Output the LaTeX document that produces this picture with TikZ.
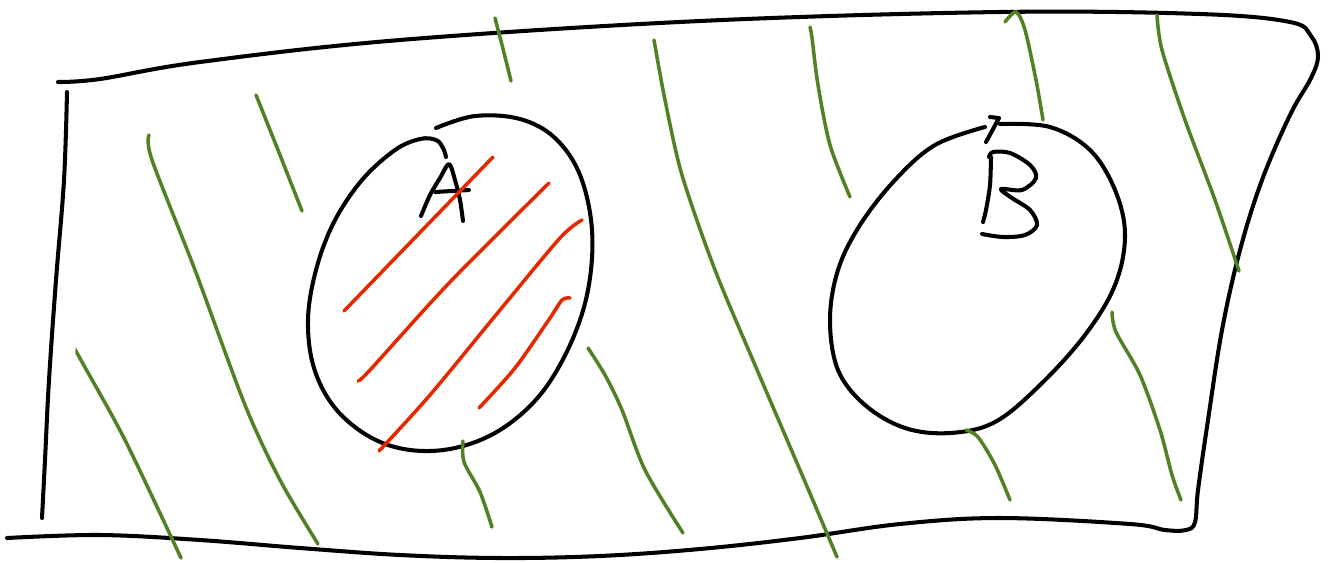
\documentclass[tikz,border=0pt]{standalone}
\definecolor{hatchgreen}{RGB}{82,128,36}
\definecolor{hatchred}{RGB}{228,40,0}
\tikzset{
  ink/.style={line width=2.3pt, line cap=round, line join=round, black},
  ghatch/.style={line width=2.0pt, line cap=round, hatchgreen},
  rhatch/.style={line width=2.0pt, line cap=round, hatchred},
}
\begin{document}
\begin{tikzpicture}[x=0.02cm,y=-0.02cm]
\useasboundingbox (0,0) rectangle (1328,562);
% outer sheet
\draw[ink] plot[smooth,tension=0.6] coordinates {(58,82) (100,79) (200,62) (400,40) (700,21) (1000,12) (1200,14) (1290,22) (1311,36) (1318,56) (1311,78) (1290,115) (1262,180) (1240,250) (1222,330) (1208,420) (1198,490) (1195,522) (1186,530) (1165,530) (1130,524) (1000,518) (900,524) (800,538) (700,549) (600,556) (500,558) (400,555) (300,548) (200,540) (100,535) (7,538)};
\draw[ink] plot[smooth,tension=0.6] coordinates {(67,92) (64,180) (56,280) (49,380) (45,460) (42,518)};
% blob A
\draw[ink] plot[smooth,tension=0.6] coordinates {(436,128) (475,116) (520,119) (555,138) (580,175) (592,230) (588,290) (570,345) (540,395) (500,430) (455,448) (410,450) (370,437) (335,408) (314,368) (308,320) (316,270) (334,222) (362,180) (395,150) (420,139) (436,140) (443,148) (446,157)};
% letter A
\draw[ink] plot[smooth,tension=0.5] coordinates {(421,216) (430,195) (440,178) (449,164) (455,180) (460,200) (463,221)};
\draw[ink] (435,192) -- (469,190);
% blob B
\draw[ink] plot[smooth,tension=0.6] coordinates {(1000,124) (1050,127) (1090,150) (1115,190) (1125,235) (1115,285) (1085,335) (1040,385) (995,422) (950,433) (905,428) (865,405) (838,370) (830,320) (838,270) (860,225) (895,180) (935,145) (985,127)};
\draw[ink] (986,142) -- (999,118) -- (990,117);
% letter B
\draw[ink] plot[smooth,tension=0.55] coordinates {(989,157) (993,152) (1010,153) (1030,165) (1036,178) (1022,190) (1001,189) (1012,198) (1030,210) (1037,225) (1025,235) (1003,237) (982,234)};
\draw[ink] plot[smooth,tension=0.5] coordinates {(991,157) (990,185) (986,210) (983,222)};
% green hatching outside
\draw[ghatch] plot[smooth] coordinates {(495,18) (502,45) (511,81)};
\draw[ghatch] plot[smooth] coordinates {(256,95) (278,150) (302,211)};
\draw[ghatch] plot[smooth] coordinates {(149,135) (152,160) (195,270) (245,405) (280,480) (318,544)};
\draw[ghatch] plot[smooth] coordinates {(77,353) (82,362) (125,440) (181,558)};
\draw[ghatch] plot[smooth] coordinates {(654,40) (665,100) (682,175) (715,270) (755,365) (800,470) (837,557)};
\draw[ghatch] plot[smooth] coordinates {(810,27) (812,38) (818,85) (830,145) (850,197)};
\draw[ghatch] plot[smooth] coordinates {(1005,22) (1016,12) (1025,30) (1036,80) (1043,120)};
\draw[ghatch] plot[smooth] coordinates {(1157,15) (1162,50) (1185,120) (1215,200) (1239,271)};
\draw[ghatch] plot[smooth] coordinates {(1112,312) (1116,332) (1140,375) (1160,430) (1172,475) (1181,500)};
\draw[ghatch] plot[smooth] coordinates {(588,348) (605,375) (622,410) (645,470) (683,533)};
\draw[ghatch] plot[smooth] coordinates {(463,441) (464,462) (480,492) (492,527)};
\draw[ghatch] plot[smooth] coordinates {(966,430) (978,437) (995,465) (1010,500)};
% red hatching inside A
\draw[rhatch] (344,311) -- (493,157);
\draw[rhatch] plot[smooth] coordinates {(359,380) (370,370) (450,282) (549,183)};
\draw[rhatch] plot[smooth] coordinates {(379,451) (430,395) (500,310) (560,238) (582,220)};
\draw[rhatch] plot[smooth] coordinates {(479,408) (515,368) (550,318) (562,300) (570,298)};
\end{tikzpicture}
\end{document}
